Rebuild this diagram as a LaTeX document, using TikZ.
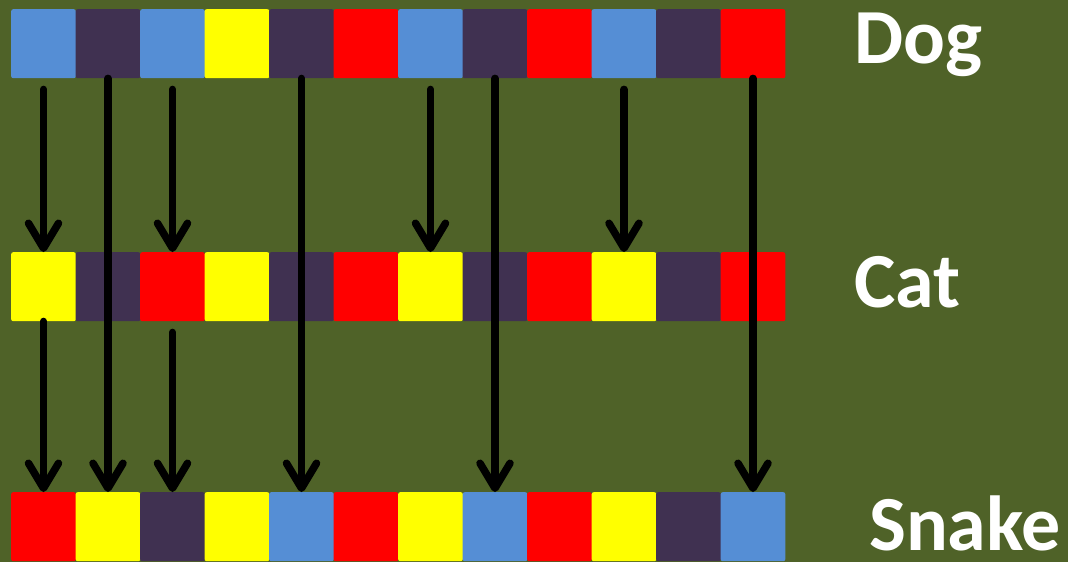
\documentclass[tikz,border=0pt]{standalone}
\usepackage{fontspec}
\newfontfamily\labelfont{Carlito}
\usetikzlibrary{arrows.meta}

\definecolor{bgolive}{HTML}{4F6228}
\definecolor{cblue}{HTML}{558ED5}
\definecolor{cpurple}{HTML}{403151}
\definecolor{cyellow}{HTML}{FFFF00}
\definecolor{cred}{HTML}{FF0000}

\tikzset{
  sq/.style={minimum width=64.6pt, minimum height=69pt, inner sep=0pt,
    rounded corners=2pt, anchor=north west},
  arr/.style={line width=7.5pt, -{Straight Barb[length=25pt, width=30pt, round]}},
  lbl/.style={text=white, inner sep=0pt, anchor=base west,
    font=\labelfont\bfseries\fontsize{78}{78}\selectfont}
}

\begin{document}
\begin{tikzpicture}[x=1pt, y=-1pt, line cap=round, line join=round]

% ----------------------------
% PARAMETERS
% ----------------------------
\def\xo{11}      % left edge of the rows
\def\w{64.5}     % width of one square
\def\yD{9}       % top of dog row
\def\yC{252}     % top of cat row
\def\yS{492}     % top of snake row

% background
\fill[bgolive] (0,0) rectangle (1068,562);

% ----------------------------
% ROWS
% ----------------------------
\foreach \c [count=\i from 0] in {cblue,cpurple,cblue,cyellow,cpurple,cred,cblue,cpurple,cred,cblue,cpurple,cred}
  \node[sq, fill=\c] (d\i) at ({\xo+\w*\i},\yD) {};

\foreach \c [count=\i from 0] in {cyellow,cpurple,cred,cyellow,cpurple,cred,cyellow,cpurple,cred,cyellow,cpurple,cred}
  \node[sq, fill=\c] (c\i) at ({\xo+\w*\i},\yC) {};

\foreach \c [count=\i from 0] in {cred,cyellow,cpurple,cyellow,cblue,cred,cyellow,cblue,cred,cyellow,cpurple,cblue}
  \node[sq, fill=\c] (s\i) at ({\xo+\w*\i},\yS) {};

% ----------------------------
% LABELS
% ----------------------------
\node[lbl] (dog)   at (854,63)  {Dog};
\node[lbl] (cat)   at (854,307) {Cat};
\node[lbl] (snake) at (869,550) {Snake};

% ----------------------------
% ARROWS
% ----------------------------
% dog -> cat
\foreach \i in {0,2,6,9}
  \draw[arr, shorten <=11pt] (d\i.south) -- (c\i.north);

% dog -> snake (over the cat row)
\foreach \i in {1,4,7,11}
  \draw[arr] (d\i.south) -- (s\i.north);

% cat -> snake
\draw[arr] (c0.south) -- (s0.north);
\draw[arr, shorten <=11pt] (c2.south) -- (s2.north);

\end{tikzpicture}
\end{document}
